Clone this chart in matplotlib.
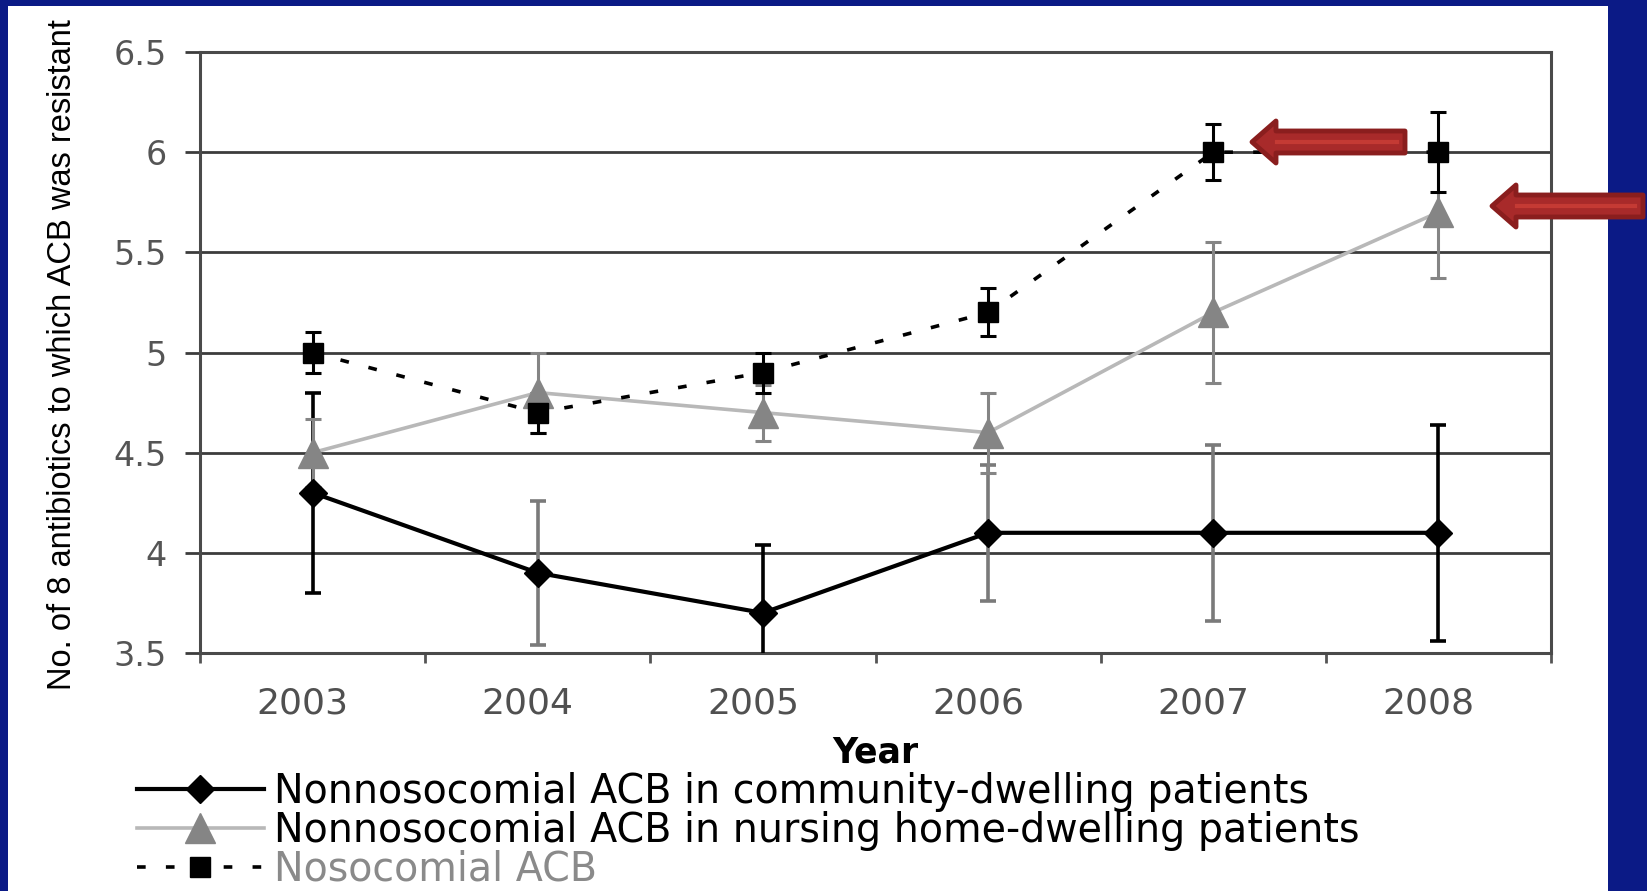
import numpy as np
import matplotlib.pyplot as plt
from matplotlib.patches import Rectangle, FancyArrow
from matplotlib.lines import Line2D
from matplotlib.transforms import ScaledTranslation

years = ['2003', '2004', '2005', '2006', '2007', '2008']

community = [4.3, 3.9, 3.7, 4.1, 4.1, 4.1]
community_err = [0.5, 0.36, 0.34, 0.34, 0.44, 0.54]

nursing = [4.5, 4.8, 4.7, 4.6, 5.2, 5.7]
nursing_err = [0.17, 0.2, 0.14, 0.2, 0.35, 0.33]

nosocomial = [5.0, 4.7, 4.9, 5.2, 6.0, 6.0]
nosocomial_err = [0.1, 0.1, 0.1, 0.12, 0.14, 0.2]

yticks = [3.5, 4.0, 4.5, 5.0, 5.5, 6.0, 6.5]

labels = ['Nonnosocomial ACB in community-dwelling patients',
          'Nonnosocomial ACB in nursing home-dwelling patients',
          'Nosocomial ACB']

W, H = 1647, 891
fig = plt.figure(figsize=(W / 100, H / 100), dpi=100, facecolor='#0b1a86')
fig.add_artist(Rectangle((8 / W, 0), (1608 - 8) / W, (H - 6) / H,
                         transform=fig.transFigure, facecolor='white',
                         edgecolor='none', zorder=0))

ax = fig.add_axes([200 / W, 1 - 653 / H, 1351 / W, 601 / H])
x = np.arange(len(years))

# error bars first, lines and markers on top
comm_ecol = ['black', '#7a7a7a', 'black', '#7a7a7a', '#7a7a7a', 'black']
for i in range(len(years)):
    ax.errorbar(x[i], community[i], yerr=community_err[i], fmt='none',
                ecolor=comm_ecol[i], elinewidth=2.6, capsize=6, capthick=2.6, zorder=3)
ax.errorbar(x, nursing, yerr=nursing_err, fmt='none', ecolor='#858585',
            elinewidth=2.2, capsize=6, capthick=2.2, zorder=3)
ax.errorbar(x, nosocomial, yerr=nosocomial_err, fmt='none', ecolor='black',
            elinewidth=2.2, capsize=6, capthick=2.2, zorder=3)

l1, = ax.plot(x, community, color='black', lw=3, marker='D', markersize=14,
              zorder=5)
l2, = ax.plot(x, nursing, color='#b8b8b8', lw=2.6, marker='^', markersize=21,
              markerfacecolor='#858585', markeredgecolor='#858585', zorder=4)
l3, = ax.plot(x, nosocomial, color='black', lw=2.6, linestyle=(0, (2.4, 5.6)),
              marker='s', markersize=15, zorder=6)

ax.set_xlim(-0.5, 5.5)
ax.set_ylim(3.5, 6.5)

ax.set_yticks(yticks)
ax.set_yticklabels([f'{v:g}' for v in yticks])
ax.yaxis.grid(True, color='#3c3c3c', lw=2)
ax.set_axisbelow(True)
ax.tick_params(axis='y', length=11, width=2, color='#3c3c3c', pad=13,
               labelsize=24, labelcolor='#555555')

ax.set_xticks(x)
ax.set_xticklabels(years)
ax.set_xticks(np.arange(-0.5, 6, 1), minor=True)
ax.tick_params(axis='x', which='major', length=0, pad=24, labelsize=26,
               labelcolor='#505050')
ax.tick_params(axis='x', which='minor', length=7, width=2, color='#555555')
shift = ScaledTranslation(-10 / 100, 0, fig.dpi_scale_trans)
for t in ax.get_xticklabels():
    t.set_transform(t.get_transform() + shift)

for s in ax.spines.values():
    s.set_color('#4a4a4a')
    s.set_linewidth(2.2)

ax.set_ylabel('No. of 8 antibiotics to which ACB was resistant', fontsize=23.5,
              family=['Liberation Sans', 'DejaVu Sans'], va='center')
ax.yaxis.set_label_coords(-0.102, 0.496)
ax.set_xlabel('Year', fontsize=25, fontweight='bold', va='center')
ax.xaxis.set_label_coords(0.5, -0.165)

leg = fig.legend([l1, l2, l3], labels, loc='upper left',
                 bbox_to_anchor=(137 / W, 1 - 772 / H), frameon=False,
                 fontsize=28.5, numpoints=1, handlelength=3.2, handletextpad=0.25,
                 borderpad=0, borderaxespad=0, labelspacing=-0.03)
leg.get_texts()[2].set_color('#8a8a8a')

# red arrows pointing at the last two nosocomial/nursing values
dpi_tr = fig.dpi_scale_trans
for tip, tail, yy in [(1252, 1405, 142), (1492, 1643, 206)]:
    yin = (H - yy) / 100
    arr = FancyArrow(tail / 100, yin, -(tail - tip) / 100, 0, width=0.22,
                     head_width=0.42, head_length=0.24,
                     length_includes_head=True, transform=dpi_tr,
                     facecolor='#a82a2a', edgecolor='#8a1e1e', lw=3.5,
                     joinstyle='round', zorder=10)
    fig.add_artist(arr)
    fig.add_artist(Line2D([(tip + 25) / 100, (tail - 8) / 100], [yin, yin],
                          transform=dpi_tr, color='#c43a34', lw=3, zorder=11))

fig.savefig('out.png', dpi=100, facecolor=fig.get_facecolor())
